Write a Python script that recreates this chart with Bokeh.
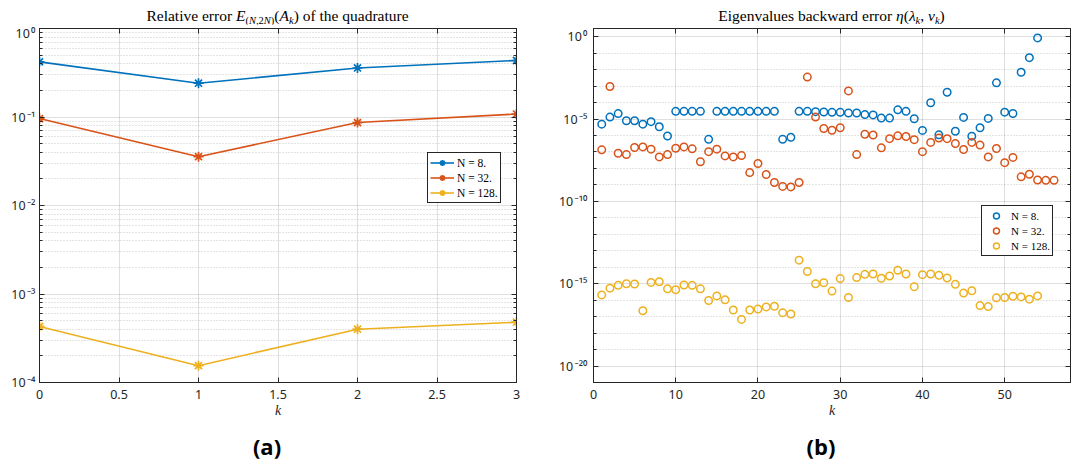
import numpy as np
from bokeh.plotting import figure
from bokeh.models import (Range1d, FixedTicker, LogAxis, LinearAxis, CustomJSTickFormatter,
                          Div, Legend, LegendItem)
from bokeh.layouts import row, column
from bokeh.embed import file_html
from bokeh.resources import INLINE

# ---------------- data (panel a) ----------------
k_quad = [0, 1, 2, 3]
quad_err_N8 = [0.42, 0.241, 0.358, 0.435]
quad_err_N32 = [0.096, 0.0356, 0.0865, 0.108]
quad_err_N128 = [4.3e-4, 1.55e-4, 4.0e-4, 4.8e-4]
series_labels = ["N = 8.", "N = 32.", "N = 128."]

# ---------------- data (panel b), log10 of backward error ----------------
log_eta_N8 = [-5.31, -4.88, -4.67, -5.10, -5.10, -5.31, -5.16, -5.47, -6.03, -4.53,
              -4.53, -4.53, -4.53, -6.23, -4.53, -4.53, -4.53, -4.53, -4.53, -4.53,
              -4.53, -4.53, -6.23, -6.11, -4.53, -4.53, -4.55, -4.57, -4.59, -4.59,
              -4.63, -4.63, -4.73, -4.75, -4.94, -4.94, -4.44, -4.53, -4.98, -5.69,
              -4.01, -5.96, -3.37, -5.74, -4.90, -6.04, -5.53, -4.96, -2.80, -4.58,
              -4.66, -2.16, -1.27, -0.07]
log_eta_N32 = [-6.87, -3.02, -7.08, -7.16, -6.73, -6.69, -6.83, -7.30, -7.16, -6.77,
               -6.69, -6.81, -7.59, -6.98, -6.83, -7.24, -7.30, -7.22, -8.25, -7.70,
               -8.37, -8.85, -9.09, -9.12, -8.85, -2.45, -4.88, -5.57, -5.68, -5.53,
               -3.29, -7.16, -5.92, -5.97, -6.75, -6.19, -6.02, -6.06, -6.25, -6.98,
               -6.42, -6.15, -6.19, -6.49, -6.85, -6.42, -6.58, -7.30, -6.79, -7.65,
               -7.33, -8.51, -8.35, -8.70, -8.72, -8.72]
log_eta_N128 = [-15.68, -15.27, -15.10, -15.00, -15.02, -16.64, -14.92, -14.88, -15.31, -15.37,
                -15.08, -15.10, -15.31, -16.02, -15.74, -15.98, -16.60, -17.17, -16.60, -16.54,
                -16.41, -16.37, -16.76, -16.84, -13.57, -14.26, -15.00, -14.94, -15.45, -14.69,
                -15.84, -14.63, -14.43, -14.41, -14.67, -14.53, -14.18, -14.41, -15.18, -14.45,
                -14.41, -14.49, -14.65, -15.04, -15.57, -15.43, -16.33, -16.39, -15.86, -15.84,
                -15.76, -15.80, -15.94, -15.74]

colors = ["#0072BD", "#D95319", "#EDB120"]
AXC = "#262626"
TICK_FONT = "Noto Sans"

sup_fmt = CustomJSTickFormatter(code="""
const m = {'-':'\u207b','0':'\u2070','1':'\u00b9','2':'\u00b2','3':'\u00b3','4':'\u2074',
           '5':'\u2075','6':'\u2076','7':'\u2077','8':'\u2078','9':'\u2079'};
const e = Math.round(Math.log10(tick));
return '10\u200a' + String(e).split('').map(c => m[c]).join('');
""")
plain_fmt = CustomJSTickFormatter(code="return String(tick);")
empty_fmt = CustomJSTickFormatter(code="return '';")


def style_axis(ax, labels=True):
    ax.axis_line_color = AXC
    ax.major_tick_in = 5
    ax.major_tick_out = 0
    ax.minor_tick_in = 3
    ax.minor_tick_out = 0
    ax.major_tick_line_color = AXC
    ax.minor_tick_line_color = AXC
    ax.major_label_text_font = TICK_FONT
    ax.major_label_text_font_size = "12.5px"
    ax.major_label_text_color = AXC
    if not labels:
        ax.major_label_standoff = 0
        ax.major_label_text_font_size = "0px"


def base_fig(width, x_range, y_range, bl, br):
    p = figure(width=width, height=398, x_range=x_range, y_range=y_range,
               y_axis_type="log", output_backend="svg", toolbar_location=None,
               min_border_left=bl, min_border_right=br, min_border_top=4,
               min_border_bottom=40)
    p.outline_line_color = AXC
    p.outline_line_alpha = 1
    p.background_fill_color = "white"
    p.border_fill_color = "white"
    return p


def style_xlabel(p):
    p.xaxis.major_label_standoff = 7
    p.xaxis.axis_label = "k"
    p.xaxis.axis_label_text_font = "Liberation Serif"
    p.xaxis.axis_label_text_font_style = "italic"
    p.xaxis.axis_label_text_font_size = "14px"
    p.xaxis.axis_label_text_color = AXC
    p.xaxis.axis_label_standoff = 1


def style_grid(p):
    for g in [p.xgrid[0], p.ygrid[0]]:
        g.grid_line_color = AXC
        g.grid_line_alpha = 0.15
    p.ygrid.minor_grid_line_color = AXC
    p.ygrid.minor_grid_line_alpha = 0.25
    p.ygrid.minor_grid_line_dash = "1 2"


def style_legend(leg, size):
    leg.border_line_color = AXC
    leg.border_line_width = 1
    leg.border_line_alpha = 1
    leg.background_fill_color = "white"
    leg.background_fill_alpha = 1
    leg.label_text_font = "Liberation Serif"
    leg.label_text_font_size = size
    leg.label_text_color = "black"
    leg.padding = 2
    leg.spacing = 0
    leg.glyph_width = 24
    leg.glyph_height = 15
    leg.label_height = 15
    leg.label_standoff = 3
    leg.margin = 0


# ---------------- panel a ----------------
pa = base_fig(540, Range1d(0, 3), Range1d(1e-4, 1), 39, 24)
xt_a = FixedTicker(ticks=[0, 0.5, 1, 1.5, 2, 2.5, 3])
yt_a_major = [1e-4, 1e-3, 1e-2, 1e-1, 1]
yt_a_minor = [m * 10.0 ** e for e in range(-4, 0) for m in range(2, 10)]
yt_a = FixedTicker(ticks=yt_a_major, minor_ticks=yt_a_minor)

pa.xaxis.ticker = xt_a
pa.xaxis.formatter = plain_fmt
pa.yaxis.ticker = yt_a
pa.yaxis.formatter = sup_fmt
for ax in pa.xaxis + pa.yaxis:
    style_axis(ax)
pa.yaxis.major_label_standoff = 4
style_xlabel(pa)

top_a = LinearAxis(ticker=xt_a, formatter=empty_fmt)
right_a = LogAxis(ticker=yt_a, formatter=empty_fmt)
style_axis(top_a, False)
style_axis(right_a, False)
pa.add_layout(top_a, "above")
pa.add_layout(right_a, "right")

pa.xgrid.ticker = xt_a
pa.ygrid.ticker = yt_a
style_grid(pa)

items_a = []
for lab, ys, col in zip(series_labels, [quad_err_N8, quad_err_N32, quad_err_N128], colors):
    l = pa.line(k_quad, ys, line_color=col, line_width=1.6)
    s = pa.scatter(k_quad, ys, marker="asterisk", size=10, line_color=col, line_width=1.7)
    items_a.append(LegendItem(label=lab, renderers=[l, s]))

leg_a = Legend(items=items_a, location=(388, 179))
style_legend(leg_a, "11.5px")
pa.add_layout(leg_a)

# ---------------- panel b ----------------
pb = base_fig(533, Range1d(0, 58), Range1d(1e-21, 10 ** 0.5), 53, 3)
xt_b = FixedTicker(ticks=[0, 10, 20, 30, 40, 50])
yt_b_major = [1e-20, 1e-15, 1e-10, 1e-5, 1]
yt_b_minor = [10.0 ** e for e in range(-21, 1) if e % 5 != 0]
yt_b = FixedTicker(ticks=yt_b_major, minor_ticks=yt_b_minor)

pb.xaxis.ticker = xt_b
pb.xaxis.formatter = plain_fmt
pb.yaxis.ticker = yt_b
pb.yaxis.formatter = sup_fmt
for ax in pb.xaxis + pb.yaxis:
    style_axis(ax)
pb.yaxis.major_label_standoff = 6
style_xlabel(pb)

top_b = LinearAxis(ticker=xt_b, formatter=empty_fmt)
right_b = LogAxis(ticker=yt_b, formatter=empty_fmt)
style_axis(top_b, False)
style_axis(right_b, False)
pb.add_layout(top_b, "above")
pb.add_layout(right_b, "right")

pb.xgrid.ticker = xt_b
pb.ygrid.ticker = yt_b
style_grid(pb)

items_b = []
for lab, logs, col in zip(series_labels, [log_eta_N8, log_eta_N32, log_eta_N128], colors):
    ks = np.arange(1, len(logs) + 1)
    vals = 10.0 ** np.array(logs)
    s = pb.scatter(ks, vals, marker="circle", size=7.5, line_color=col, fill_color=None,
                   line_width=1.5)
    items_b.append(LegendItem(label=lab, renderers=[s]))

leg_b = Legend(items=items_b, location=(388, 126))
style_legend(leg_b, "11px")
pb.add_layout(leg_b)

# ---------------- titles and captions ----------------
SUB = "font-size:10.5px;line-height:0;vertical-align:-3px"
title_style = ("text-align:center;font-family:'Liberation Serif',serif;font-size:15.5px;"
               "line-height:22px;padding-top:5px;color:#000;white-space:nowrap")
t_a = Div(text=(f'<div style="margin-left:39px;width:477px;{title_style}">Relative error '
                f'<i>E</i><sub style="{SUB}">(<i>N</i>,2<i>N</i>)</sub>(<i>A</i>'
                f'<sub style="{SUB}"><i>k</i></sub>) of the quadrature</div>'),
          width=540, height=24, margin=(0, 0, 0, 0))
t_b = Div(text=(f'<div style="margin-left:53px;width:477px;{title_style}">Eigenvalues backward error '
                f'<i>&eta;</i>(<i>&lambda;</i><sub style="{SUB}"><i>k</i></sub>, '
                f'<i>v</i><sub style="{SUB}"><i>k</i></sub>)</div>'),
          width=533, height=24, margin=(0, 0, 0, 0))

cap_style = ("width:200px;text-align:center;font-family:'Open Sans',sans-serif;font-weight:bold;"
             "font-size:22px;line-height:24px;padding-top:12px;color:#000")
c_a = Div(text=f'<div style="margin-left:167px;{cap_style}">(a)</div>',
          width=540, height=39, margin=(0, 0, 0, 0))
c_b = Div(text=f'<div style="margin-left:181px;{cap_style}">(b)</div>',
          width=533, height=39, margin=(0, 0, 0, 0))

layout = row(column(t_a, pa, c_a, spacing=0), column(t_b, pb, c_b, spacing=0), spacing=0)

open("out.html", "w").write(file_html(layout, INLINE))
